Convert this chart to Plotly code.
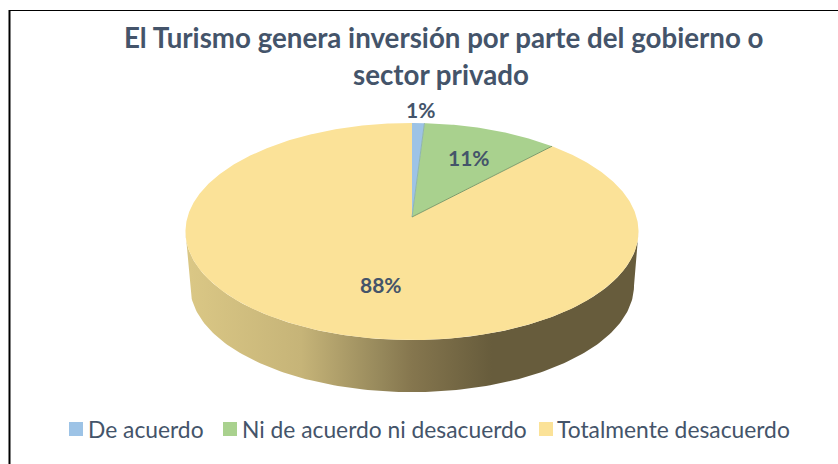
import numpy as np
import plotly.graph_objects as go

# ---- data ----
categories = ["De acuerdo", "Ni de acuerdo ni desacuerdo", "Totalmente desacuerdo"]
values = [1, 11, 88]
title_lines = ["El Turismo genera inversión por parte del gobierno o", "sector privado"]

# ---- style ----
colors = ["#9DC3E6", "#A9D18E", "#FBE298"]
TEXT = "#44546A"
FONT = "Lato"
W, H = 838, 464
CX, CY, A, B = 412.0, 217.0, 224.5, 106.6   # pie centre and radii in the page
P = 0.1336                                  # perspective strength
WALL_SCALE, WALL_SHIFT = 0.98, 54.5 / B

label_px = [(420, 110), (469, 158), (381, 284)]
legend_swatch_px = [69, 223, 539]
legend_text_px = [86, 240, 555]
LEGEND_Y = 429


def project(theta_deg):
    """Clockwise angle from 12 o'clock on a unit disc, tilted in perspective."""
    t = np.radians(theta_deg)
    X, Y = np.sin(t), np.cos(t)
    w = 1 + P * Y
    return X / w, Y / w


def arc(a0, a1, step=1.0):
    n = max(int(abs(a1 - a0) / step), 2) + 1
    return project(np.linspace(a0, a1, n))


fig = go.Figure()

# side wall, shaded left to right; it runs between the widest points of the rim
widest = np.degrees(np.arccos(-P))
tx, ty = arc(widest, 360 - widest)
bx, by = arc(360 - widest, widest)
wx = np.concatenate([tx, bx * WALL_SCALE])
wy = np.concatenate([ty, by * WALL_SCALE - WALL_SHIFT])
fig.add_trace(go.Scatter(
    x=wx, y=wy, mode="lines", line=dict(width=0), fill="toself",
    fillgradient=dict(
        type="horizontal",
        colorscale=[[0, "#DAC785"], [0.25, "#C6B478"], [0.43, "#96885B"],
                    [0.5, "#85764E"], [0.68, "#675C3C"], [1, "#675C3C"]],
        start=-0.98 * 1.009, stop=0.98 * 1.009),
    hoverinfo="skip", showlegend=False))

# top face, one wedge per category
total = sum(values)
edges = np.cumsum([0] + values) / total * 360
for i, name in enumerate(categories):
    ax, ay = arc(edges[i], edges[i + 1], 0.5)
    fig.add_trace(go.Scatter(
        x=np.concatenate([[0], ax, [0]]), y=np.concatenate([[0], ay, [0]]),
        mode="lines", line=dict(width=0), fill="toself", fillcolor=colors[i],
        name=name, hoverinfo="name", showlegend=False))

# thin darker seams along the wedge edges
for edge, col in zip(edges[1:3], ["#8FB4B0", "#7E9C6B"]):
    ex, ey = project(np.array([edge]))
    fig.add_trace(go.Scatter(x=[0, ex[0]], y=[0, ey[0]], mode="lines",
                             line=dict(width=1, color=col),
                             hoverinfo="skip", showlegend=False))

annotations = [dict(
    xref="paper", yref="paper", x=443.5 / W, y=1 - 37 / H, text=title_lines[0],
    showarrow=False, xanchor="center", yanchor="middle",
    font=dict(family=FONT, size=27.7, color=TEXT, weight="bold")),
    dict(
    xref="paper", yref="paper", x=441 / W, y=1 - 74 / H, text=title_lines[1],
    showarrow=False, xanchor="center", yanchor="middle",
    font=dict(family=FONT, size=27.7, color=TEXT, weight="bold"))]

for v, (px, py) in zip(values, label_px):
    annotations.append(dict(
        xref="paper", yref="paper", x=px / W, y=1 - py / H, text=f"{v}%",
        showarrow=False, xanchor="center", yanchor="middle",
        font=dict(family=FONT, size=21, color=TEXT, weight="bold")))

shapes = [
    dict(type="line", xref="paper", yref="paper", x0=9.5 / W, x1=9.5 / W,
         y0=0, y1=1 - 10 / H, line=dict(color="black", width=2)),
    dict(type="line", xref="paper", yref="paper", x0=9 / W, x1=1,
         y0=1 - 10.5 / H, y1=1 - 10.5 / H, line=dict(color="black", width=1.2)),
]

for name, col, sx, tx_ in zip(categories, colors, legend_swatch_px, legend_text_px):
    shapes.append(dict(
        type="rect", xref="paper", yref="paper", x0=sx / W, x1=(sx + 14) / W,
        y0=1 - (LEGEND_Y + 7) / H, y1=1 - (LEGEND_Y - 7) / H,
        fillcolor=col, line=dict(width=0)))
    annotations.append(dict(
        xref="paper", yref="paper", x=tx_ / W, y=1 - LEGEND_Y / H, text=name,
        showarrow=False, xanchor="left", yanchor="middle",
        font=dict(family=FONT, size=22.8, color=TEXT)))

fig.update_layout(
    width=W, height=H, margin=dict(l=0, r=0, t=0, b=0),
    paper_bgcolor="white", plot_bgcolor="white", showlegend=False,
    xaxis=dict(range=[(0 - CX) / A, (W - CX) / A], visible=False, fixedrange=True),
    yaxis=dict(range=[(CY - H) / B, CY / B], visible=False, fixedrange=True),
    annotations=annotations, shapes=shapes)

fig.write_html("out.html", config=dict(displayModeBar=False),
               post_script="document.body.style.margin='0';document.documentElement.style.overflow='hidden';")
